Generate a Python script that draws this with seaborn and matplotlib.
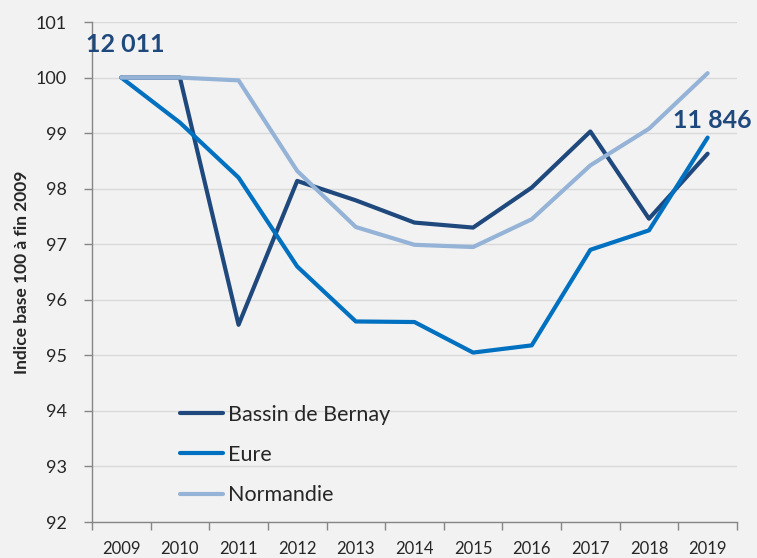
import matplotlib
matplotlib.use('Agg')
import matplotlib.pyplot as plt
import seaborn as sns
import pandas as pd

# Data (index base 100 at end of 2009)
years = [2009, 2010, 2011, 2012, 2013, 2014, 2015, 2016, 2017, 2018, 2019]
bernay = [100, 100, 95.55, 98.14, 97.79, 97.39, 97.30, 98.02, 99.03, 97.46, 98.63]
eure = [100, 99.19, 98.2, 96.6, 95.61, 95.6, 95.05, 95.18, 96.9, 97.25, 98.92]
normandie = [100, 100, 99.95, 98.32, 97.31, 96.99, 96.95, 97.45, 98.42, 99.08, 100.08]
series_names = ['Bassin de Bernay', 'Eure', 'Normandie']
colors = ['#1F497D', '#0070C0', '#95B3D7']
start_label = '12 011'
end_label = '11 846'

df = pd.DataFrame({
    'pos': list(range(len(years))) * 3,
    'value': bernay + eure + normandie,
    'serie': [s for s in series_names for _ in years],
})

sns.set_style('white')
plt.rcParams['font.family'] = ['Lato', 'DejaVu Sans']
bg = '#F2F2F2'

fig = plt.figure(figsize=(7.57, 5.58), dpi=100, facecolor=bg)
ax = fig.add_axes([0.1215, 0.0645, 0.852, 0.896])
ax.set_facecolor(bg)

sns.lineplot(data=df, x='pos', y='value', hue='serie', palette=colors,
             hue_order=series_names, linewidth=3, ax=ax)

ax.set_ylim(92, 101)
ax.set_xlim(-0.5, len(years) - 0.5)
ax.set_yticks(range(92, 102))
ax.yaxis.grid(True, color='#D9D9D9', linewidth=1)
ax.set_axisbelow(True)

# category axis: labels at centres, tick marks between categories
ax.set_xticks(range(len(years)))
ax.set_xticklabels([str(y) for y in years])
ax.set_xticks([i - 0.5 for i in range(len(years) + 1)], minor=True)
ax.tick_params(axis='x', which='major', bottom=True, length=0, pad=14, labelsize=12)
ax.tick_params(axis='x', which='minor', bottom=True, length=6, color='#868686', width=1)
ax.tick_params(axis='y', left=True, length=6, color='#868686', width=1, pad=12, labelsize=13)

for side in ['top', 'right']:
    ax.spines[side].set_visible(False)
for side in ['left', 'bottom']:
    ax.spines[side].set_color('#868686')
    ax.spines[side].set_linewidth(1)

ax.set_xlabel('')
ax.set_ylabel('Indice base 100 à fin 2009', fontsize=12.5, fontweight='bold', labelpad=4)

ax.text(0.07, 100.59, start_label, fontsize=18, fontweight='bold', color='#1F497D',
        ha='center', va='center')
ax.text(10.08, 99.23, end_label, fontsize=18, fontweight='bold', color='#1F497D',
        ha='center', va='center')

ax.legend(loc='upper left', bbox_to_anchor=(0.136, 0.235), frameon=False, fontsize=15.5,
          borderpad=0, borderaxespad=0, handlelength=2.0, handletextpad=0.25,
          labelspacing=0.95)

fig.savefig('out.png', dpi=100, facecolor=bg)
